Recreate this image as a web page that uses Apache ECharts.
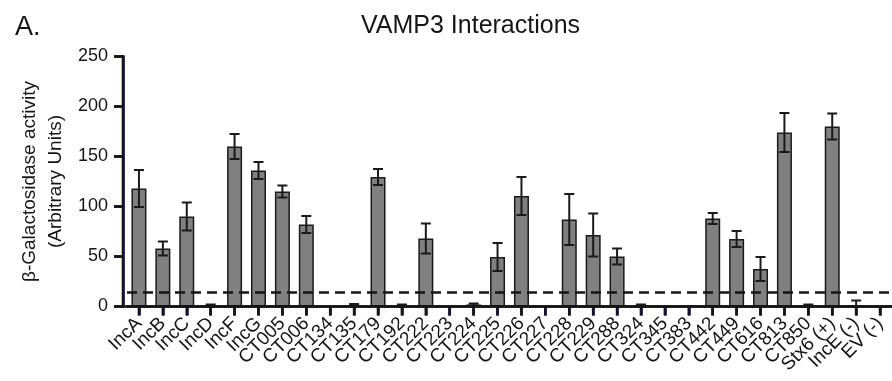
<!DOCTYPE html>
<html>
<head>
<meta charset="utf-8">
<script src="https://cdn.jsdelivr.net/npm/echarts@6/dist/echarts.min.js"></script>
<style>
html,body{margin:0;padding:0;background:#fff;}
#chart{width:892px;height:381px;}
</style>
</head>
<body>
<div id="chart"></div>
<script>
const categories = ['IncA','IncB','IncC','IncD','IncF','IncG','CT005','CT006','CT134','CT135','CT179','CT192','CT222','CT223','CT224','CT225','CT226','CT227','CT228','CT229','CT288','CT324','CT345','CT383','CT442','CT449','CT616','CT813','CT850','Stx6 (+)','IncE (-)','EV (-)'];
const means = [118,58,90,1,160,136,115,82,0,1.5,129.5,1,68,0,2,49.5,110.5,0,87,71.5,50,1,0,0.5,88,67.5,37.5,174,1,180,1,0];
const errors = [18.5,7,14,1,12.5,8.5,6,8.5,0,1,8,1,15,0,1,14,19,0,25.5,21.5,8,1,0,0,5.5,8,12,19.5,1,13,5,0];
const threshold = 14;
const yTickValues = [0,50,100,150,200,250];
const yTicks = {min:0, max:250, interval:50};

const FONT = 'Liberation Sans, Arial, sans-serif';
const INK = '#151515';
const AXIS = '#000060';
const chart = echarts.init(document.getElementById('chart'));

const errData = categories.map((c,i)=>[i, means[i]-errors[i], means[i]+errors[i], errors[i]]);

chart.setOption({
  animation:false,
  backgroundColor:'#fff',
  title:[
    {text:'A.', left:10, top:9, textStyle:{fontFamily:FONT, fontSize:27, fontWeight:'normal', color:INK}},
    {text:'VAMP3 Interactions', left:356, top:9, textStyle:{fontFamily:FONT, fontSize:25, fontWeight:'normal', color:INK}}
  ],
  grid:{left:127, right:-3, top:56.5, bottom:74.5},
  xAxis:{
    type:'category',
    data:categories,
    axisLine:{show:true, lineStyle:{color:AXIS, width:2.5}},
    axisTick:{show:true, alignWithLabel:true, length:9, lineStyle:{color:AXIS, width:2.5}},
    axisLabel:{rotate:45, interval:0, margin:14, fontFamily:FONT, fontSize:19, color:INK}
  },
  yAxis:{
    type:'value',
    min:yTicks.min, max:yTicks.max, interval:yTicks.interval,
    offset:4,
    name:'β-Galactosidase activity\n(Arbitrary Units)',
    nameLocation:'middle',
    nameGap:54,
    nameMoveOverlap:false,
    nameTextStyle:{fontFamily:FONT, fontSize:19, color:INK, lineHeight:26, align:'center'},
    axisLine:{show:true, lineStyle:{color:AXIS, width:2.5}},
    axisTick:{show:true, length:9, lineStyle:{color:AXIS, width:2.5}},
    axisLabel:{margin:15, fontFamily:FONT, fontSize:18, color:INK},
    splitLine:{show:false}
  },
  series:[
    {
      type:'bar',
      data:means,
      barWidth:15,
      itemStyle:{color:'#808080', borderColor:'#1a1a1a', borderWidth:1.5},
      markLine:{
        silent:true,
        symbol:['none','none'],
        label:{show:false},
        lineStyle:{type:[10,6], width:2.5, color:INK},
        data:[{yAxis:threshold}]
      },
      z:2
    },
    {
      type:'custom',
      data:errData,
      z:3,
      renderItem:function(params, api){
        if (api.value(3) <= 0) return null;
        const lo = api.coord([api.value(0), Math.max(api.value(1), 0)]);
        const hi = api.coord([api.value(0), api.value(2)]);
        const hw = 5;
        const st = {stroke:'#1a1a1a', lineWidth:2};
        return {type:'group', children:[
          {type:'line', shape:{x1:hi[0], y1:hi[1], x2:lo[0], y2:lo[1]}, style:st},
          {type:'line', shape:{x1:hi[0]-hw, y1:hi[1], x2:hi[0]+hw, y2:hi[1]}, style:st},
          {type:'line', shape:{x1:lo[0]-hw, y1:lo[1], x2:lo[0]+hw, y2:lo[1]}, style:st}
        ]};
      }
    }
  ]
});

// Dark axis overlay positioned through the chart's own scales
const p0 = chart.convertToPixel({gridIndex:0}, [0, yTicks.min]);
const pTop = chart.convertToPixel({gridIndex:0}, [0, yTicks.max]);
const gridRect = chart.getModel().getComponent('grid', 0).coordinateSystem.getRect();
const y0 = p0[1];
const yAxisX = gridRect.x - 4;
const st = {stroke:INK, lineWidth:2.6};
const els = [];
els.push({type:'line', z:100, silent:true, shape:{x1:yAxisX - 1.3, y1:y0, x2:gridRect.x + gridRect.width, y2:y0}, style:st});
els.push({type:'line', z:100, silent:true, shape:{x1:yAxisX, y1:pTop[1] - 1.3, x2:yAxisX, y2:y0 + 1.3}, style:st});
yTickValues.forEach(function(v){
  const y = chart.convertToPixel({gridIndex:0}, [0, v])[1];
  els.push({type:'line', z:100, silent:true, shape:{x1:yAxisX - 9, y1:y, x2:yAxisX, y2:y}, style:st});
});
categories.forEach(function(c, i){
  const x = chart.convertToPixel({gridIndex:0}, [i, 0])[0];
  els.push({type:'line', z:100, silent:true, shape:{x1:x, y1:y0, x2:x, y2:y0 + 9}, style:st});
});
chart.setOption({graphic:els});
</script>
</body>
</html>
